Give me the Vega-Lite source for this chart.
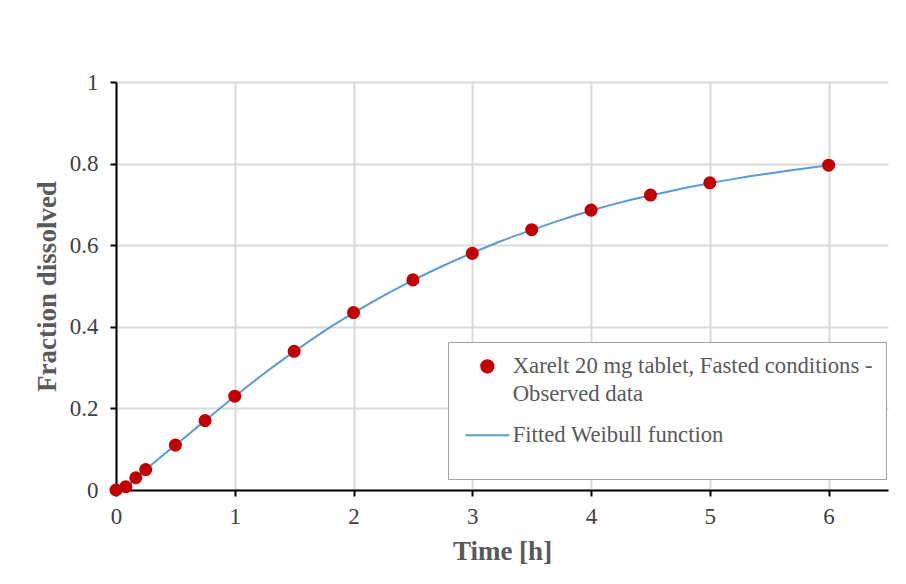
{
  "$schema": "https://vega.github.io/schema/vega-lite/v6.json",
  "width": 772,
  "height": 408,
  "autosize": "none",
  "padding": {"left": 116, "top": 82, "right": 18, "bottom": 94},
  "background": "white",
  "config": {
    "view": {"stroke": null},
    "font": "Liberation Serif",
    "axis": {
      "gridColor": "#d9d9d9",
      "gridWidth": 2,
      "domainColor": "#000000",
      "domainWidth": 2,
      "tickColor": "#000000",
      "tickWidth": 2,
      "tickSize": 6,
      "labelFont": "Liberation Serif",
      "labelFontSize": 23,
      "labelColor": "#404040",
      "titleFont": "Liberation Serif",
      "titleFontSize": 27,
      "titleFontWeight": "bold",
      "titleColor": "#595959"
    }
  },
  "datasets": {
    "obs": [
      {"t": 0, "f": 0, "series": "Xarelt 20 mg tablet, Fasted conditions - Observed data"},
      {"t": 0.083, "f": 0.008, "series": "Xarelt 20 mg tablet, Fasted conditions - Observed data"},
      {"t": 0.167, "f": 0.03, "series": "Xarelt 20 mg tablet, Fasted conditions - Observed data"},
      {"t": 0.25, "f": 0.05, "series": "Xarelt 20 mg tablet, Fasted conditions - Observed data"},
      {"t": 0.5, "f": 0.11, "series": "Xarelt 20 mg tablet, Fasted conditions - Observed data"},
      {"t": 0.75, "f": 0.17, "series": "Xarelt 20 mg tablet, Fasted conditions - Observed data"},
      {"t": 1, "f": 0.23, "series": "Xarelt 20 mg tablet, Fasted conditions - Observed data"},
      {"t": 1.5, "f": 0.34, "series": "Xarelt 20 mg tablet, Fasted conditions - Observed data"},
      {"t": 2, "f": 0.435, "series": "Xarelt 20 mg tablet, Fasted conditions - Observed data"},
      {"t": 2.5, "f": 0.515, "series": "Xarelt 20 mg tablet, Fasted conditions - Observed data"},
      {"t": 3, "f": 0.58, "series": "Xarelt 20 mg tablet, Fasted conditions - Observed data"},
      {"t": 3.5, "f": 0.638, "series": "Xarelt 20 mg tablet, Fasted conditions - Observed data"},
      {"t": 4, "f": 0.686, "series": "Xarelt 20 mg tablet, Fasted conditions - Observed data"},
      {"t": 4.5, "f": 0.723, "series": "Xarelt 20 mg tablet, Fasted conditions - Observed data"},
      {"t": 5, "f": 0.753, "series": "Xarelt 20 mg tablet, Fasted conditions - Observed data"},
      {"t": 6, "f": 0.796, "series": "Xarelt 20 mg tablet, Fasted conditions - Observed data"}
    ],
    "fit": [
      {"t": 0, "f": 0, "series": "Fitted Weibull function"},
      {"t": 0.1, "f": 0.012, "series": "Fitted Weibull function"},
      {"t": 0.25, "f": 0.05, "series": "Fitted Weibull function"},
      {"t": 0.5, "f": 0.11, "series": "Fitted Weibull function"},
      {"t": 0.75, "f": 0.17, "series": "Fitted Weibull function"},
      {"t": 1, "f": 0.229, "series": "Fitted Weibull function"},
      {"t": 1.25, "f": 0.286, "series": "Fitted Weibull function"},
      {"t": 1.5, "f": 0.339, "series": "Fitted Weibull function"},
      {"t": 1.75, "f": 0.389, "series": "Fitted Weibull function"},
      {"t": 2, "f": 0.434, "series": "Fitted Weibull function"},
      {"t": 2.25, "f": 0.476, "series": "Fitted Weibull function"},
      {"t": 2.5, "f": 0.514, "series": "Fitted Weibull function"},
      {"t": 2.75, "f": 0.549, "series": "Fitted Weibull function"},
      {"t": 3, "f": 0.581, "series": "Fitted Weibull function"},
      {"t": 3.25, "f": 0.611, "series": "Fitted Weibull function"},
      {"t": 3.5, "f": 0.637, "series": "Fitted Weibull function"},
      {"t": 3.75, "f": 0.662, "series": "Fitted Weibull function"},
      {"t": 4, "f": 0.685, "series": "Fitted Weibull function"},
      {"t": 4.25, "f": 0.705, "series": "Fitted Weibull function"},
      {"t": 4.5, "f": 0.722, "series": "Fitted Weibull function"},
      {"t": 4.75, "f": 0.738, "series": "Fitted Weibull function"},
      {"t": 5, "f": 0.752, "series": "Fitted Weibull function"},
      {"t": 5.25, "f": 0.765, "series": "Fitted Weibull function"},
      {"t": 5.5, "f": 0.776, "series": "Fitted Weibull function"},
      {"t": 5.75, "f": 0.786, "series": "Fitted Weibull function"},
      {"t": 6, "f": 0.796, "series": "Fitted Weibull function"}
    ]
  },
  "encoding": {
    "x": {
      "field": "t", "type": "quantitative",
      "scale": {"domain": [0, 6.5], "nice": false},
      "axis": {"title": "Time [h]", "values": [0, 1, 2, 3, 4, 5, 6], "labelPadding": 9, "titlePadding": 10, "labelFlush": false}
    },
    "y": {
      "field": "f", "type": "quantitative",
      "scale": {"domain": [0, 1], "nice": false},
      "axis": {"title": "Fraction dissolved", "values": [0, 0.2, 0.4, 0.6, 0.8, 1], "format": "~g", "labelPadding": 12, "titlePadding": 8}
    },
    "color": {
      "field": "series", "type": "nominal",
      "scale": {"domain": ["Xarelt 20 mg tablet, Fasted conditions - Observed data", "Fitted Weibull function"], "range": ["#c00000", "#5b9bd5"]},
      "legend": {
        "title": " ",
        "titleOrient": "bottom",
        "titleFontSize": 19,
        "titlePadding": 0,
        "orient": "none",
        "legendX": 332,
        "legendY": 260,
        "padding": 13,
        "strokeColor": "#a0a0a0",
        "fillColor": "white",
        "labelFont": "Liberation Serif",
        "labelFontSize": 22.7,
        "labelColor": "#595959",
        "labelLimit": 500,
        "labelOffset": 14,
        "symbolOffset": 15,
        "rowPadding": 17,
        "symbolSize": 1936,
        "labelExpr": "datum.label == 'Fitted Weibull function' ? datum.label : ['Xarelt 20 mg tablet, Fasted conditions -', 'Observed data']",
        "encode": {
          "labels": {"update": {"lineHeight": {"value": 28}}},
          "symbols": {
            "update": {
              "stroke": {"scale": "color", "field": "value"},
              "strokeWidth": {"value": 2},
              "size": {"signal": "datum.value === 'Fitted Weibull function' ? 1936 : 150"}
            }
          }
        }
      }
    }
  },
  "layer": [
    {
      "data": {"name": "fit"},
      "mark": {"type": "line", "strokeWidth": 2, "interpolate": "monotone"}
    },
    {
      "data": {"name": "obs"},
      "mark": {"type": "point", "filled": true, "opacity": 1, "size": 170},
      "encoding": {
        "shape": {
          "field": "series", "type": "nominal",
          "scale": {"domain": ["Xarelt 20 mg tablet, Fasted conditions - Observed data", "Fitted Weibull function"], "range": ["circle", "stroke"]}
        }
      }
    }
  ]
}
